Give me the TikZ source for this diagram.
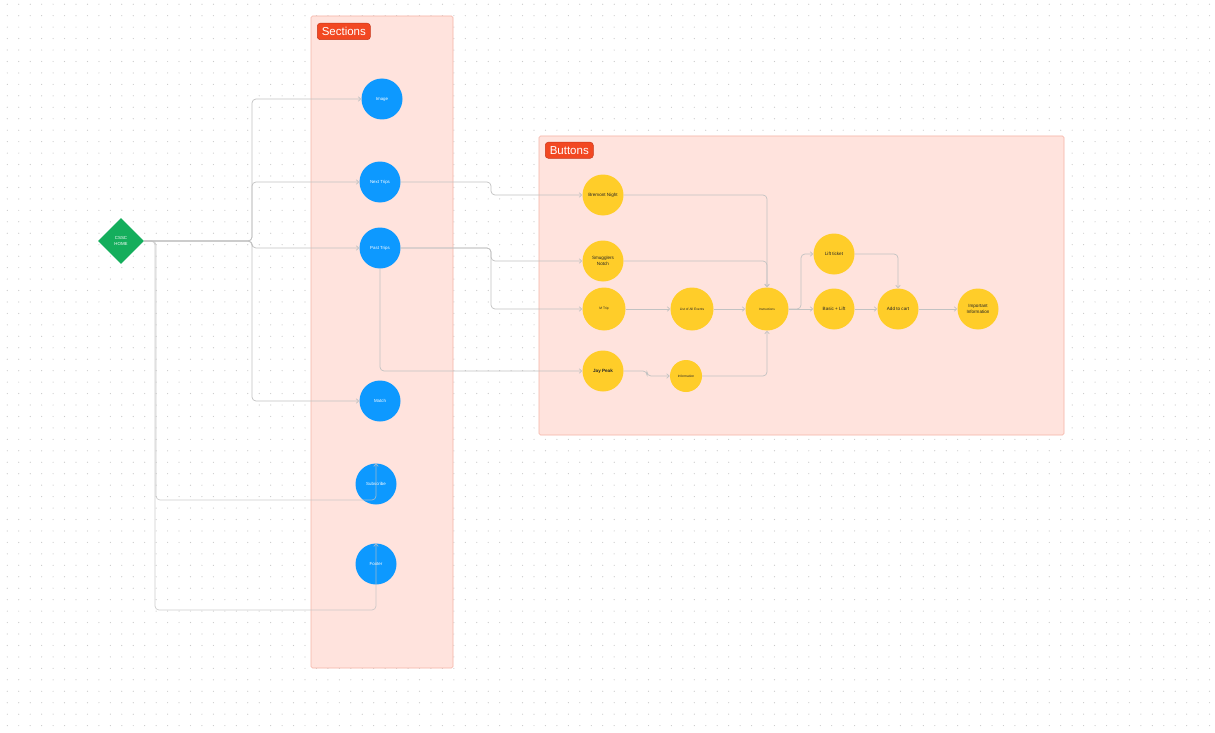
\documentclass[tikz,border=0pt]{standalone}
\usepackage{fontspec}
\setmainfont{Liberation Sans}
\usetikzlibrary{shapes.geometric,arrows.meta}
\definecolor{dotgray}{HTML}{C9C9C9}
\definecolor{panelfill}{HTML}{FFE3DD}
\definecolor{panelline}{HTML}{F6B3A5}
\definecolor{tagfill}{HTML}{F24822}
\definecolor{tagline}{HTML}{C7361A}
\definecolor{figblue}{HTML}{0D99FF}
\definecolor{figyellow}{HTML}{FFCD29}
\definecolor{figgreen}{HTML}{14AE5C}
\definecolor{wire}{HTML}{C2C2C2}
\tikzset{
  panel/.style={draw=panelline, line width=0.6pt, fill=panelfill, rounded corners=1.5},
  tag/.style={draw=tagline, line width=0.5pt, fill=tagfill, rounded corners=3, text=white,
    font=\fontsize{11.5}{12}\selectfont, inner xsep=4.5pt, inner ysep=4pt, anchor=north west},
  bluedot/.style={circle, fill=figblue, minimum size=41pt, inner sep=0pt, text=white,
    font=\fontsize{4.4}{5.2}\selectfont, align=center},
  yeldot/.style={circle, fill=figyellow, minimum size=41pt, inner sep=0pt, text=black!85,
    font=\fontsize{4.6}{5.6}\selectfont, align=center},
  conn/.style={draw=wire, line width=0.7pt, rounded corners=4pt,
    -{Straight Barb[length=2.6pt,width=4.5pt]}},
}
\begin{document}
\begin{tikzpicture}[x=1pt,y=-1pt]
\useasboundingbox (0,0) rectangle (1215,733);
\fill[white] (0,0) rectangle (1215,733);
% dotted canvas
\foreach \i in {0,...,105}{
  \foreach \j in {0,...,63}{
    \fill[dotgray] ({7.3+11.45*\i},{4.25+11.45*\j}) circle (0.6);
  }
}
% section panels
\draw[panel] (311,16) rectangle (453,668);
\node[tag] (sectag) at (317,23) {Sections};
\draw[panel] (539,136) rectangle (1064,435);
\node[tag] (buttag) at (545,142) {Buttons};

% start node
\node[diamond, fill=figgreen, minimum width=46pt, minimum height=46pt, inner sep=0pt,
  text=white, font=\fontsize{4.4}{5.4}\selectfont, align=center] (home) at (121,241) {CSSC\\HOME};

% sections
\node[bluedot] (image) at (382,99) {Image};
\node[bluedot] (next) at (380,182) {Next Trips};
\node[bluedot] (past) at (380,248) {Past Trips};
\node[bluedot] (match) at (380,401) {Match};
\node[bluedot] (subscribe) at (376,484) {Subscribe};
\node[bluedot] (footer) at (376,564) {Footer};

% buttons
\node[yeldot] (bremont) at (603,195) {Bremont Night};
\node[yeldot] (smug) at (603,261) {Smugglers\\Notch};
\node[yeldot, minimum size=43pt, font=\fontsize{3.3}{4}\selectfont] (mtrip) at (604,309) {M Trip};
\node[yeldot, minimum size=43pt, font=\fontsize{3.3}{4}\selectfont] (list) at (692,309) {List of All Events};
\node[yeldot, minimum size=43pt, font=\fontsize{3.1}{4}\selectfont] (instr) at (767,309) {Instructions};
\node[yeldot, font=\bfseries\fontsize{4.6}{5.6}\selectfont] (jay) at (603,371) {Jay Peak};
\node[yeldot, minimum size=32pt, font=\fontsize{3.3}{4}\selectfont] (info) at (686,376) {Information};
\node[yeldot] (lift) at (834,254) {Lift ticket};
\node[yeldot] (basic) at (834,309) {Basic + Lift};
\node[yeldot] (add) at (898,309) {Add to cart};
\node[yeldot] (imp) at (978,309) {Important\\Information};

% home to sections
\draw[conn] (home.east) -- (252,241) |- (image.west);
\draw[conn] (home.east) -- (252,241) |- (next.west);
\draw[conn] (home.east) -- (252,241) |- (past.west);
\draw[conn] (home.east) -- (252,241) |- (match.west);
\draw[conn, draw opacity=0.8] (home.east) -- (156,241) -- (156,500) -- (376,500) -- (subscribe.north);
\draw[conn, draw opacity=0.8] (home.east) -- (155,241) -- (155,610) -- (376,610) -- (footer.north);

% sections to buttons
\draw[conn] (next.east) -- (491,182) |- (bremont.west);
\draw[conn] (past.east) -- (491,248) |- (smug.west);
\draw[conn] (past.east) -- (491,248) |- (mtrip.west);
\draw[conn] (past.south) |- (jay.west);

% button flow
\draw[conn] (bremont.east) -| (instr.north);
\draw[conn] (smug.east) -| (instr.north);
\draw[conn] (mtrip) -- (list);
\draw[conn] (list) -- (instr);
\draw[conn] (jay.east) -- (647,371) |- (info.west);
\draw[conn] (info.east) -| (instr.south);
\draw[conn] (instr.east) -- (801,309) |- (lift.west);
\draw[conn] (instr) -- (basic);
\draw[conn] (lift.east) -| (add.north);
\draw[conn] (basic) -- (add);
\draw[conn] (add) -- (imp);
\end{tikzpicture}
\end{document}
